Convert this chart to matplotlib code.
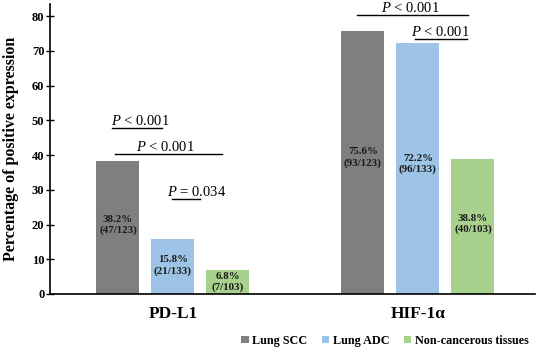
import matplotlib
matplotlib.use("Agg")
import matplotlib.pyplot as plt
import numpy as np

plt.rcParams["font.family"] = ["Liberation Serif", "DejaVu Serif"]
plt.rcParams["mathtext.fontset"] = "custom"
plt.rcParams["mathtext.it"] = "Liberation Serif:italic"
plt.rcParams["mathtext.rm"] = "Liberation Serif"

markers = ["PD-L1", "HIF-1\u03b1"]
groups = ["Lung SCC", "Lung ADC", "Non-cancerous tissues"]
percent = {
    "Lung SCC": [38.2, 75.6],
    "Lung ADC": [15.8, 72.2],
    "Non-cancerous tissues": [6.8, 38.8],
}
counts = {
    "Lung SCC": ["47/123", "93/123"],
    "Lung ADC": ["21/133", "96/133"],
    "Non-cancerous tissues": ["7/103", "40/103"],
}
colors = ["#7f7f7f", "#9dc3e6", "#a9d18e"]

# significance lines: x0, x1, y, operator, value, text x
sig = [
    (-0.249, -0.045, 47.8, "<", "0.001", -0.135),
    (-0.237, 0.200, 40.3, "<", "0.001", -0.033),
    (-0.004, 0.110, 27.3, "=", "0.034", 0.098),
    (0.751, 1.204, 80.3, "<", "0.001", 0.967),
    (0.988, 1.200, 73.4, "<", "0.001", 1.090),
]

fig = plt.figure(figsize=(5.45, 3.49), dpi=100)
ax = fig.add_axes([0.0917, 0.1576, 0.89, 0.8309])

x = np.arange(len(markers))
step = 0.2245
width = 0.1755
for i, g in enumerate(groups):
    pos = x + (i - 1) * step
    ax.bar(pos, percent[g], width=width, color=colors[i], label=g)
    for p, v, c in zip(pos, percent[g], counts[g]):
        ax.text(p, v * 0.52, f"{v}%\n({c})", ha="center", va="center",
                fontsize=7.8, fontweight="bold", color="#1a1a1a", linespacing=1.2)

for x0, x1, y, op, val, tx in sig:
    ax.plot([x0, x1], [y, y], color="black", lw=1.0)
    ax.text(tx, y + 0.9, f"$\\it{{P}}$ {op} {val}", ha="center", va="baseline",
            fontsize=10.5)

ax.set_xlim(-0.502, 1.478)
ax.set_ylim(0, 83.5)
ax.set_yticks(range(0, 81, 10))
ax.set_xticks([])
for t in ax.get_yticklabels():
    t.set_fontweight("bold")
ax.tick_params(axis="y", direction="inout", length=6, width=1, labelsize=9, pad=1)
ax.spines["top"].set_visible(False)
ax.spines["right"].set_visible(False)
ax.spines["left"].set_linewidth(1.2)
ax.spines["bottom"].set_linewidth(1.2)
ax.set_ylabel("Percentage of positive expression", fontsize=11.5,
              fontweight="bold", labelpad=9)

for xi, m in zip(x, markers):
    ax.text(xi, -3.6, m, ha="center", va="top", fontsize=12.5, fontweight="bold")

fig.legend(loc="lower right", bbox_to_anchor=(0.99, -0.025), ncol=3, frameon=False,
           prop={"size": 8.7, "weight": "bold"}, handlelength=0.6, handleheight=0.6,
           handletextpad=0.3, columnspacing=1.2)

fig.savefig("out.png", dpi=100)
